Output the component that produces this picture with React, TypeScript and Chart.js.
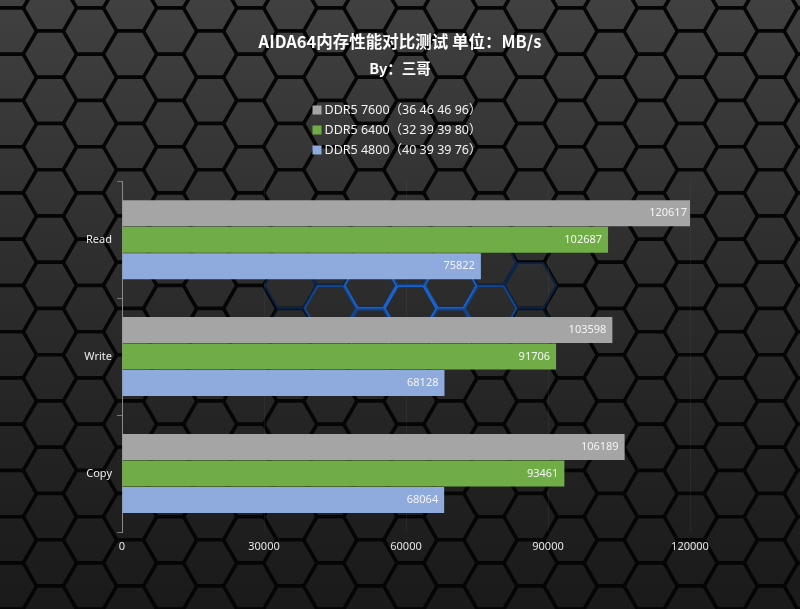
import React, { useEffect, useRef } from 'react';
import { Chart, registerables } from 'chart.js';

Chart.register(...registerables);

const categories = ['Read', 'Write', 'Copy'];
const seriesNames = ['DDR5 7600（36 46 46 96）', 'DDR5 6400（32 39 39 80）', 'DDR5 4800（40 39 39 76）'];
const ddr5_7600 = [120617, 103598, 106189];
const ddr5_6400 = [102687, 91706, 93461];
const ddr5_4800 = [75822, 68128, 68064];
const seriesColors = ['#a5a5a5', '#70ad47', '#8faadc'];
const xMin = 0;
const xMax = 120000;
const xStep = 30000;
const titleText = 'AIDA64内存性能对比测试 单位：MB/s';
const subtitleText = 'By：三哥';

const FONT = '"Noto Sans", "Noto Sans CJK SC", sans-serif';
const CJK = '"Noto Sans CJK SC", "Noto Sans", sans-serif';

const hexBackground = {
  id: 'hexBackground',
  beforeDraw(chart: any) {
    const { ctx, width, height } = chart;
    ctx.save();
    ctx.fillStyle = '#080808';
    ctx.fillRect(0, 0, width, height);
    const r = 26.7;
    const h = Math.sqrt(3) * r;
    const dx = 1.5 * r;
    const grad = ctx.createLinearGradient(0, 0, 0, height);
    grad.addColorStop(0, '#404040');
    grad.addColorStop(0.4, '#2f2f2f');
    grad.addColorStop(0.75, '#222222');
    grad.addColorStop(1, '#1a1a1a');
    const cells: Array<[number, number]> = [];
    for (let i = -1; 10 + i * dx < width + r; i++) {
      const cx = 10 + i * dx;
      const off = ((i % 2) + 2) % 2 === 1 ? h / 2 : 0;
      for (let j = -1; 31.1 + j * h < height + h; j++) {
        cells.push([cx, 31.1 + j * h + off]);
      }
    }
    const path = (cx: number, cy: number, rr: number) => {
      ctx.beginPath();
      for (let k = 0; k < 6; k++) {
        const a = (Math.PI / 3) * k;
        const px = cx + rr * Math.cos(a);
        const py = cy + rr * Math.sin(a);
        if (k === 0) ctx.moveTo(px, py);
        else ctx.lineTo(px, py);
      }
      ctx.closePath();
    };
    ctx.fillStyle = grad;
    ctx.strokeStyle = '#050505';
    ctx.lineWidth = 3.5;
    ctx.lineJoin = 'round';
    for (const [cx, cy] of cells) {
      path(cx, cy, r);
      ctx.fill();
      ctx.stroke();
    }
    // blue glow on the edges near the middle
    const gx = 410, gy = 300, rx = 160, ry = 65;
    ctx.lineWidth = 2;
    for (const [cx, cy] of cells) {
      const d = Math.sqrt(((cx - gx) / rx) ** 2 + ((cy - gy) / ry) ** 2);
      const a = Math.max(0, 1 - d);
      if (a <= 0) continue;
      ctx.strokeStyle = `rgba(30,110,225,${Math.min(0.9, a * 1.3)})`;
      path(cx, cy, r - 1);
      ctx.stroke();
    }
    ctx.restore();
  },
};

const valueLabels = {
  id: 'valueLabels',
  afterDatasetsDraw(chart: any) {
    const { ctx } = chart;
    ctx.save();
    ctx.font = `11px ${FONT}`;
    ctx.fillStyle = '#f4f4f4';
    ctx.textAlign = 'right';
    ctx.textBaseline = 'middle';
    chart.data.datasets.forEach((ds: any, di: number) => {
      const meta = chart.getDatasetMeta(di);
      meta.data.forEach((el: any, i: number) => {
        ctx.fillText(String(ds.data[i]), el.x - 6, el.y);
      });
    });
    ctx.restore();
  },
};

const stackedLegend = {
  id: 'stackedLegend',
  afterDraw(chart: any) {
    const { ctx } = chart;
    ctx.save();
    ctx.font = `12.5px ${FONT}`;
    ctx.textBaseline = 'middle';
    ctx.textAlign = 'left';
    const ds = chart.data.datasets;
    let maxW = 0;
    ds.forEach((d: any) => { maxW = Math.max(maxW, ctx.measureText(d.label).width); });
    const box = 9;
    const gap = 3;
    const total = box + gap + maxW;
    const x0 = 397 - total / 2;
    ds.forEach((d: any, i: number) => {
      const y = 110 + i * 20;
      ctx.fillStyle = d.backgroundColor;
      ctx.fillRect(x0, y - box / 2, box, box);
      ctx.fillStyle = '#f2f2f2';
      ctx.fillText(d.label, x0 + box + gap, y + 0.5);
    });
    ctx.restore();
  },
};

export default function App() {
  const canvasRef = useRef<HTMLCanvasElement | null>(null);

  useEffect(() => {
    if (!canvasRef.current) return;
    const seriesValues = [ddr5_7600, ddr5_6400, ddr5_4800];
    const chart = new Chart(canvasRef.current, {
      type: 'bar',
      data: {
        labels: categories,
        datasets: seriesValues.map((vals, i) => ({
          label: seriesNames[i],
          data: vals,
          backgroundColor: seriesColors[i],
          borderWidth: 0,
          categoryPercentage: 0.68,
          barPercentage: 0.98,
        })),
      },
      options: {
        indexAxis: 'y',
        responsive: true,
        maintainAspectRatio: false,
        animation: false,
        layout: { padding: 0 },
        plugins: {
          legend: { display: false },
          tooltip: { enabled: false },
          title: {
            display: true,
            text: titleText,
            color: '#ffffff',
            font: { family: CJK, size: 16.5, weight: 'bold' },
            padding: { top: 32, bottom: 3 },
          },
          subtitle: {
            display: true,
            text: subtitleText,
            color: '#ffffff',
            font: { family: CJK, size: 14.5, weight: 'bold' },
            padding: { top: 5, bottom: 104 },
          },
        },
        scales: {
          x: {
            min: xMin,
            max: xMax,
            ticks: {
              stepSize: xStep,
              color: '#e6e6e6',
              font: { family: FONT, size: 11 },
              padding: 8,
              callback: (v: any) => String(v),
            },
            grid: { color: 'rgba(90,90,90,0.18)', drawTicks: false },
            border: { display: false },
            afterFit: (scale: any) => { scale.height = 77; },
          },
          y: {
            ticks: {
              color: '#eeeeee',
              font: { family: FONT, size: 11 },
              padding: 5,
            },
            grid: { drawOnChartArea: false, color: '#7a7a7a', tickLength: 5 },
            border: { display: true, color: '#8a8a8a', width: 1 },
            afterFit: (scale: any) => { scale.width = 122; },
          },
          yRight: {
            type: 'category',
            position: 'right',
            display: true,
            ticks: { display: false },
            grid: { display: false },
            border: { display: false },
            afterFit: (scale: any) => { scale.width = 110; },
          },
        },
      },
      plugins: [hexBackground, valueLabels, stackedLegend],
    });
    return () => chart.destroy();
  }, []);

  return (
    <div style={{ position: 'fixed', left: 0, top: 0, width: 800, height: 609 }}>
      <canvas ref={canvasRef} />
    </div>
  );
}
